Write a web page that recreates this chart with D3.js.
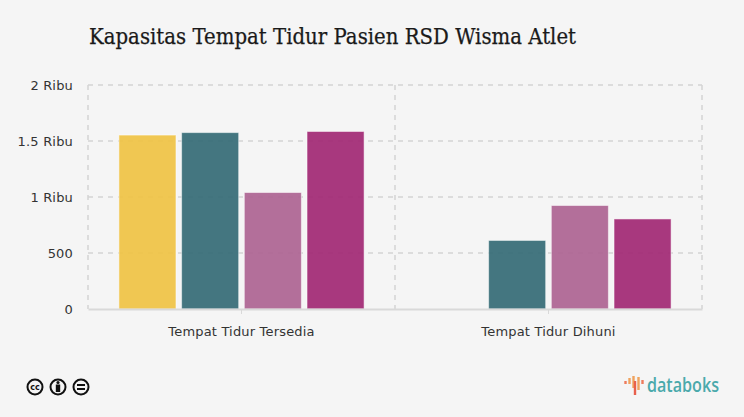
<!DOCTYPE html>
<html>

<head>
  <title>Kapasitas Tempat Tidur</title>
  <script src="https://cdn.jsdelivr.net/npm/d3@7/dist/d3.min.js"></script>
  <style type="text/css">
    html, body { margin: 0; padding: 0; background: #f5f5f5; }
    svg { display: block; }
    .grid line { stroke: #d4d4d4; stroke-width: 1.5px; stroke-dasharray: 5 5; }
    .tick-label { font-family: "DejaVu Sans", sans-serif; font-size: 13px; letter-spacing: 0.18px; fill: #333; }
    .title { font-family: "DejaVu Serif", serif; font-size: 22px; fill: #1a1a1a; stroke: #1a1a1a; stroke-width: 0.25px; }
  </style>
</head>

<body>
  <div id="chartArea"></div>
  <script type="text/javascript">
    const categories = ['Tempat Tidur Tersedia', 'Tempat Tidur Dihuni'];
    const seriesNames = ['a', 'b', 'c', 'd'];
    const seriesA = [1553, null];
    const seriesB = [1575, 612];
    const seriesC = [1040, 924];
    const seriesD = [1585, 804];
    const seriesColors = ['#f0c240', '#316873', '#ac6190', '#a02471'];
    const yTicks = [0, 500, 1000, 1500, 2000];
    const yTickLabels = ['0', '500', '1 Ribu', '1.5 Ribu', '2 Ribu'];
    const allSeries = [seriesA, seriesB, seriesC, seriesD];

    let margin = { top: 85, right: 42, bottom: 108, left: 88 };
    let w = 744 - margin.left - margin.right;
    let h = 417 - margin.top - margin.bottom;

    let svg = d3.select('#chartArea').append('svg')
      .attr('width', 744)
      .attr('height', 417);

    svg.append('text')
      .attr('class', 'title')
      .attr('x', 89)
      .attr('y', 44)
      .attr('textLength', 487)
      .attr('lengthAdjust', 'spacingAndGlyphs')
      .text('Kapasitas Tempat Tidur Pasien RSD Wisma Atlet');

    let g = svg.append('g')
      .attr('transform', `translate(${margin.left}, ${margin.top})`);

    let xScale = d3.scaleBand().domain(categories).range([0, w]);
    let xInner = d3.scaleBand().domain(seriesNames)
      .range([0, xScale.bandwidth()])
      .paddingOuter(0.493)
      .paddingInner(0.09);
    let yScale = d3.scaleLinear().domain([0, 2000]).range([h, 0]);

    // dashed grid, horizontal from the y ticks, vertical at the band edges
    let grid = g.append('g').attr('class', 'grid');
    grid.selectAll('.h').data(yTicks.slice(1)).enter().append('line')
      .attr('x1', 0).attr('x2', w)
      .attr('y1', d => yScale(d)).attr('y2', d => yScale(d));
    grid.selectAll('.v').data([...categories.map(c => xScale(c)), w]).enter().append('line')
      .attr('x1', d => d).attr('x2', d => d)
      .attr('y1', 0).attr('y2', h);

    allSeries.forEach((values, s) => {
      g.selectAll('.bar' + s)
        .data(values.map((v, i) => ({ v: v, cat: categories[i] })).filter(d => d.v !== null))
        .enter()
        .append('rect')
        .attr('x', d => xScale(d.cat) + xInner(seriesNames[s]))
        .attr('y', d => yScale(d.v))
        .attr('width', xInner.bandwidth())
        .attr('height', d => h - yScale(d.v))
        .attr('fill', seriesColors[s])
        .attr('fill-opacity', 0.9)
        .attr('stroke', '#ffffff')
        .attr('stroke-opacity', 0.5)
        .attr('stroke-width', 1);
    });

    // axes
    let xAxis = g.append('g')
      .attr('transform', `translate(0, ${h})`)
      .call(d3.axisBottom(xScale).tickSizeInner(5).tickSizeOuter(0).tickPadding(13));
    xAxis.select('.domain').attr('stroke', '#d9d9d9').attr('stroke-width', 2);
    xAxis.selectAll('line').attr('stroke', '#d9d9d9');
    xAxis.selectAll('text').attr('class', 'tick-label').attr('font-family', null).attr('font-size', null);

    let yAxis = g.append('g')
      .call(d3.axisLeft(yScale).tickValues(yTicks)
        .tickFormat((d, i) => yTickLabels[i]).tickSize(0).tickPadding(15));
    yAxis.select('.domain').remove();
    yAxis.selectAll('text').attr('class', 'tick-label').attr('font-family', null).attr('font-size', null);

    // cc by nd badges
    let badges = svg.append('g').attr('fill', 'none').attr('stroke', '#111');
    [35, 58, 81].forEach(x => {
      badges.append('circle').attr('cx', x).attr('cy', 387).attr('r', 7.5).attr('stroke-width', 2);
    });
    badges.append('text').attr('x', 35).attr('y', 390).attr('text-anchor', 'middle')
      .attr('font-family', 'DejaVu Sans').attr('font-weight', 'bold').attr('font-size', 8)
      .attr('fill', '#111').attr('stroke', 'none').text('cc');
    badges.append('circle').attr('cx', 58).attr('cy', 382.5).attr('r', 1.6).attr('fill', '#111').attr('stroke', 'none');
    badges.append('rect').attr('x', 55.8).attr('y', 384.5).attr('width', 4.4).attr('height', 7.5).attr('fill', '#111').attr('stroke', 'none');
    badges.append('rect').attr('x', 77).attr('y', 384).attr('width', 8).attr('height', 2).attr('fill', '#111').attr('stroke', 'none');
    badges.append('rect').attr('x', 77).attr('y', 388).attr('width', 8).attr('height', 2).attr('fill', '#111').attr('stroke', 'none');

    // databoks logo
    let logo = svg.append('g');
    const logoBars = [[625.5, 381, 384, '#ee7b5c'], [629.5, 378, 384, '#f0a35e'], [633.5, 376, 388, '#f0a35e'], [635, 381, 395, '#e8604c'], [638.5, 377, 390, '#f0a35e'], [642.5, 380, 384, '#ee7b5c']];
    logoBars.forEach(b => {
      logo.append('line').attr('x1', b[0]).attr('x2', b[0]).attr('y1', b[1]).attr('y2', b[2])
        .attr('stroke', b[3]).attr('stroke-width', 2.4);
    });
    logo.append('text').attr('x', 647).attr('y', 392)
      .attr('font-family', 'Open Sans').attr('font-weight', 600).attr('font-size', 19)
      .attr('textLength', 72).attr('lengthAdjust', 'spacingAndGlyphs')
      .attr('fill', '#4aa9ab').text('databoks');
  </script>
</body>

</html>
